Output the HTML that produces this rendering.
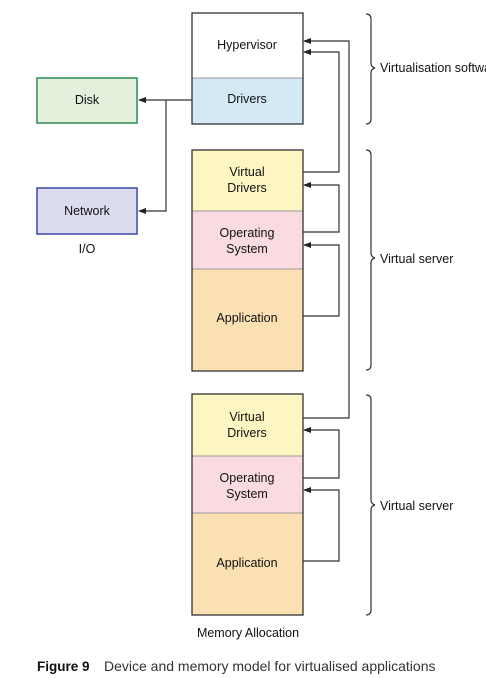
<!DOCTYPE html>
<html><head><meta charset="utf-8"><style>
html,body{margin:0;padding:0;background:#fff;width:486px;height:678px;overflow:hidden}
svg{display:block}
text{font-family:"Liberation Sans",Arial,sans-serif;font-size:12.5px;fill:#111}
</style></head><body>
<svg width="486" height="678" viewBox="0 0 486 678" xmlns="http://www.w3.org/2000/svg">
<defs>
<marker id="a" markerWidth="8" markerHeight="6" refX="7" refY="3" orient="auto" markerUnits="userSpaceOnUse">
<path d="M0,0 L8,3 L0,6 Z" fill="#222"/></marker>
</defs>
<rect x="192" y="13" width="111" height="65" fill="#fff"/>
<rect x="192" y="78" width="111" height="46" fill="#d3e9f6"/>
<line x1="192" y1="78" x2="303" y2="78" stroke="#999"/>
<rect x="192" y="13" width="111" height="111" fill="none" stroke="#333" stroke-width="1.3"/>
<text x="247" y="49" text-anchor="middle">Hypervisor</text>
<text x="247" y="103" text-anchor="middle">Drivers</text>
<rect x="192" y="150" width="111" height="61" fill="#fdf6c3"/>
<rect x="192" y="211" width="111" height="58" fill="#f9dbe1"/>
<rect x="192" y="269" width="111" height="102" fill="#fbe0b3"/>
<line x1="192" y1="211" x2="303" y2="211" stroke="#999"/>
<line x1="192" y1="269" x2="303" y2="269" stroke="#999"/>
<rect x="192" y="150" width="111" height="221" fill="none" stroke="#333" stroke-width="1.3"/>
<text x="247" y="176" text-anchor="middle">Virtual</text>
<text x="247" y="192" text-anchor="middle">Drivers</text>
<text x="247" y="237" text-anchor="middle">Operating</text>
<text x="247" y="253" text-anchor="middle">System</text>
<text x="247" y="322" text-anchor="middle">Application</text>
<rect x="192" y="394" width="111" height="62" fill="#fdf6c3"/>
<rect x="192" y="456" width="111" height="57" fill="#f9dbe1"/>
<rect x="192" y="513" width="111" height="102" fill="#fbe0b3"/>
<line x1="192" y1="456" x2="303" y2="456" stroke="#999"/>
<line x1="192" y1="513" x2="303" y2="513" stroke="#999"/>
<rect x="192" y="394" width="111" height="221" fill="none" stroke="#333" stroke-width="1.3"/>
<text x="247" y="421" text-anchor="middle">Virtual</text>
<text x="247" y="437" text-anchor="middle">Drivers</text>
<text x="247" y="482" text-anchor="middle">Operating</text>
<text x="247" y="498" text-anchor="middle">System</text>
<text x="247" y="567" text-anchor="middle">Application</text>
<text x="248" y="637" text-anchor="middle">Memory Allocation</text>
<rect x="37" y="78" width="100" height="45" fill="#e2f0dc" stroke="#2e8a57" stroke-width="1.5"/>
<text x="87" y="104" text-anchor="middle">Disk</text>
<rect x="37" y="188" width="100" height="46" fill="#dcdcf0" stroke="#3b48a8" stroke-width="1.5"/>
<text x="87" y="215" text-anchor="middle">Network</text>
<text x="87" y="253" text-anchor="middle">I/O</text>
<g fill="none" stroke="#333" stroke-width="1.2">
<path d="M192,100 H139" marker-end="url(#a)"/>
<path d="M166,100 V211 H139" marker-end="url(#a)"/>
<path d="M303,418 H349 V41 H304" marker-end="url(#a)"/>
<path d="M303,172 H339 V52 H304" marker-end="url(#a)"/>
<path d="M303,232 H339 V185 H304" marker-end="url(#a)"/>
<path d="M303,316 H339 V245 H304" marker-end="url(#a)"/>
<path d="M303,478 H339 V430 H304" marker-end="url(#a)"/>
<path d="M303,561 H339 V490 H304" marker-end="url(#a)"/>
<path d="M366,14 Q371,14 371,19 V63 Q371,67 375,68 Q371,69 371,73 V119 Q371,124 366,124"/>
<path d="M366,150 Q371,150 371,155 V253 Q371,257 375,258 Q371,259 371,263 V365 Q371,370 366,370"/>
<path d="M366,395 Q371,395 371,400 V500 Q371,504 375,505 Q371,506 371,510 V610 Q371,615 366,615"/>
</g>
<text x="380" y="72">Virtualisation software</text>
<text x="380" y="263">Virtual server</text>
<text x="380" y="510">Virtual server</text>
<text x="37" y="671" style="font-weight:bold;font-size:13.5px">Figure 9</text>
<text x="104" y="671" style="fill:#333;font-size:14px">Device and memory model for virtualised applications</text>
</svg>
</body></html>
